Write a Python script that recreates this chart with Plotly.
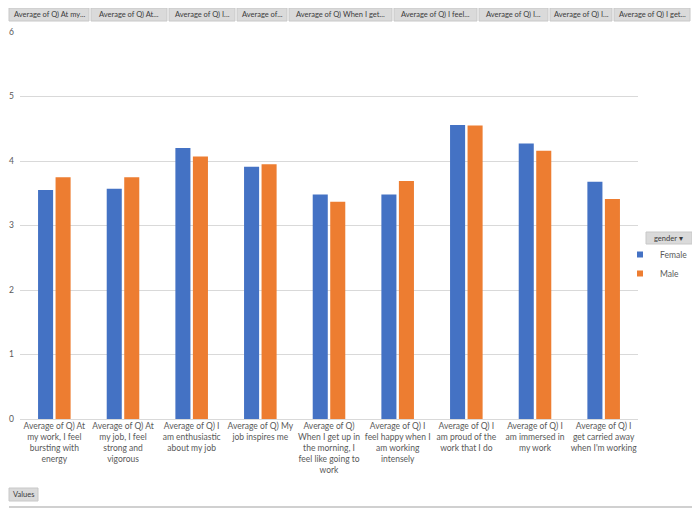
import plotly.graph_objects as go

# data
questions = [
    "Average of Q) At my work, I feel bursting with energy",
    "Average of Q) At my job, I feel strong and vigorous",
    "Average of Q) I am enthusiastic about my job",
    "Average of Q) My job inspires me",
    "Average of Q) When I get up in the morning, I feel like going to work",
    "Average of Q) I feel happy when I am working intensely",
    "Average of Q) I am proud of the work that I do",
    "Average of Q) I am immersed in my work",
    "Average of Q) I get carried away when I'm working",
]
tick_labels = [
    "Average of Q) At<br>my work, I feel<br>bursting with<br>energy",
    "Average of Q) At<br>my job, I feel<br>strong and<br>vigorous",
    "Average of Q) I<br>am enthusiastic<br>about my job",
    "Average of Q) My<br>job inspires me",
    "Average of Q)<br>When I get up in<br>the morning, I<br>feel like going to<br>work",
    "Average of Q) I<br>feel happy when I<br>am working<br>intensely",
    "Average of Q) I<br>am proud of the<br>work that I do",
    "Average of Q) I<br>am immersed in<br>my work",
    "Average of Q) I<br>get carried away<br>when I'm working",
]
female = [3.55, 3.57, 4.20, 3.91, 3.48, 3.48, 4.56, 4.27, 3.68]
male = [3.75, 3.75, 4.07, 3.95, 3.37, 3.69, 4.55, 4.16, 3.41]
header_buttons = [
    "Average of Q) At my...", "Average of Q) At...", "Average of Q) I...",
    "Average of...", "Average of Q) When I get...", "Average of Q) I feel...",
    "Average of Q) I...", "Average of Q) I...", "Average of Q) I get...",
]

# the page body has an 8px margin, so the figure is shrunk by that much
OFF = 8
W, H = 700 - OFF, 509 - OFF
# plot area in window pixels
L, R, T, B = 20, 638, 32, 419


def px(x):
    return (x - L) / (R - L)


def py(y):
    return (B - y) / (B - T)


FONT = "Lato"
GREY = "#595959"
BLUE = "#4472C4"
ORANGE = "#ED7D31"

fig = go.Figure()
fig.add_trace(go.Bar(x=questions, y=female, name="Female", showlegend=False,
                     marker=dict(color=BLUE, line=dict(width=0))))
fig.add_trace(go.Bar(x=questions, y=male, name="Male", showlegend=False,
                     marker=dict(color=ORANGE, line=dict(width=0))))
# small square keys like the Excel legend
for name, col in (("Female", BLUE), ("Male", ORANGE)):
    fig.add_trace(go.Scatter(x=[None], y=[None], mode="markers", name=name,
                             marker=dict(symbol="square", size=6, color=col)))

shapes = []
annotations = []


def button(x0, x1, y0, y1, text, size=7.5):
    shapes.append(dict(type="rect", xref="paper", yref="paper",
                       x0=px(x0), x1=px(x1), y0=py(y1), y1=py(y0),
                       fillcolor="#dadada", line=dict(color="#c8c8c8", width=1),
                       layer="above"))
    annotations.append(dict(xref="paper", yref="paper", x=px((x0 + x1) / 2),
                            y=py((y0 + y1) / 2), text=text, showarrow=False,
                            xanchor="center", yanchor="middle",
                            font=dict(family=FONT, size=size, color="#3a3a3a")))


bx = [(9, 89), (91, 167), (169, 235), (237, 287), (289, 392),
      (394, 477), (479, 548), (550, 612), (614, 690)]
for (a, b), t in zip(bx, header_buttons):
    button(a, b, 8, 21, t)

button(9, 38, 488, 501, "Values")
button(646, 692, 232, 244, "gender &#9662;")

# right and bottom edge of the pivot chart frame
shapes.append(dict(type="line", xref="paper", yref="paper",
                   x0=px(696), x1=px(696), y0=py(507), y1=py(9),
                   line=dict(color="#d0d0d0", width=2)))
shapes.append(dict(type="line", xref="paper", yref="paper",
                   x0=px(9), x1=px(696), y0=py(507), y1=py(507),
                   line=dict(color="#d0d0d0", width=2)))

fig.update_layout(
    width=W, height=H,
    margin=dict(l=L - OFF, r=W - (R - OFF), t=T - OFF, b=H - (B - OFF),
                pad=0, autoexpand=False),
    paper_bgcolor="white", plot_bgcolor="white",
    barmode="group", bargap=0.49, bargroupgap=0.14,
    font=dict(family=FONT, color=GREY),
    xaxis=dict(tickmode="array", tickvals=questions, ticktext=tick_labels,
               tickangle=0, tickfont=dict(size=8.5, color=GREY),
               showgrid=False, showline=False, ticks="", automargin=False),
    yaxis=dict(range=[0, 6], dtick=1, tickfont=dict(size=8.5, color=GREY),
               gridcolor="#d9d9d9", gridwidth=1, zeroline=True,
               zerolinecolor="#d9d9d9", zerolinewidth=1, ticks="",
               ticklabelstandoff=5, automargin=False),
    legend=dict(x=px(620), y=py(240), xanchor="left", yanchor="top",
                font=dict(size=8.5, color=GREY), itemwidth=30,
                bgcolor="rgba(0,0,0,0)", tracegroupgap=0),
    shapes=shapes,
    annotations=annotations,
)

fig.write_html("out.html")
